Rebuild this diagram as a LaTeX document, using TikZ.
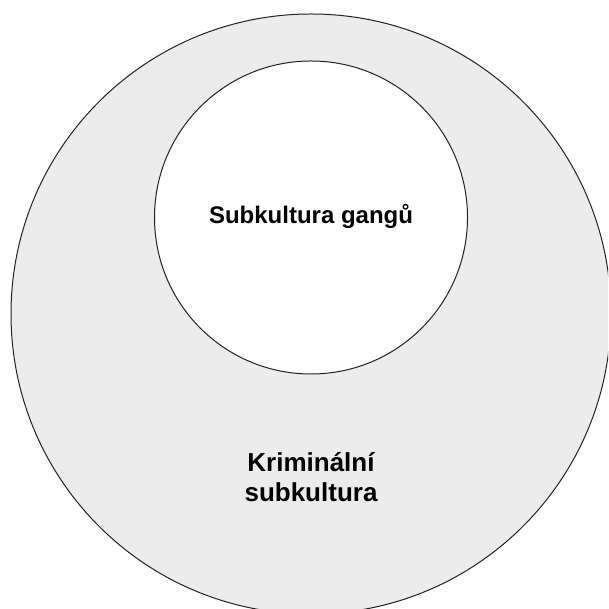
\documentclass[tikz,border=0pt]{standalone}
\usepackage{fontspec}
\setmainfont{Liberation Sans}
\definecolor{ringgray}{HTML}{ECECEC}
\definecolor{edge}{HTML}{222222}
\begin{document}
\begin{tikzpicture}[x=1pt,y=1pt,
  ring/.style={draw=edge, line width=1pt},
  lbl/.style={font=\bfseries, text=black, inner sep=0pt}]
\useasboundingbox (0,0) rectangle (608,609);
\clip (0,0) rectangle (608,609);
\fill[white] (0,0) rectangle (608,609);
\node[ring, circle, fill=ringgray, minimum size=600pt, inner sep=0pt] (outer) at (311,295) {};
\node[ring, circle, fill=white, minimum size=313pt, inner sep=0pt] (inner) at (311,391.5) {};
\node[lbl, font=\bfseries\fontsize{24}{28}\selectfont, anchor=base] (gang) at (311,385) {Subkultura gangů};
\node[lbl, font=\bfseries\fontsize{26}{30}\selectfont, anchor=base] (krim1) at (311,137) {Kriminální};
\node[lbl, font=\bfseries\fontsize{26}{30}\selectfont, anchor=base] (krim2) at (311,107) {subkultura};
\end{tikzpicture}
\end{document}
